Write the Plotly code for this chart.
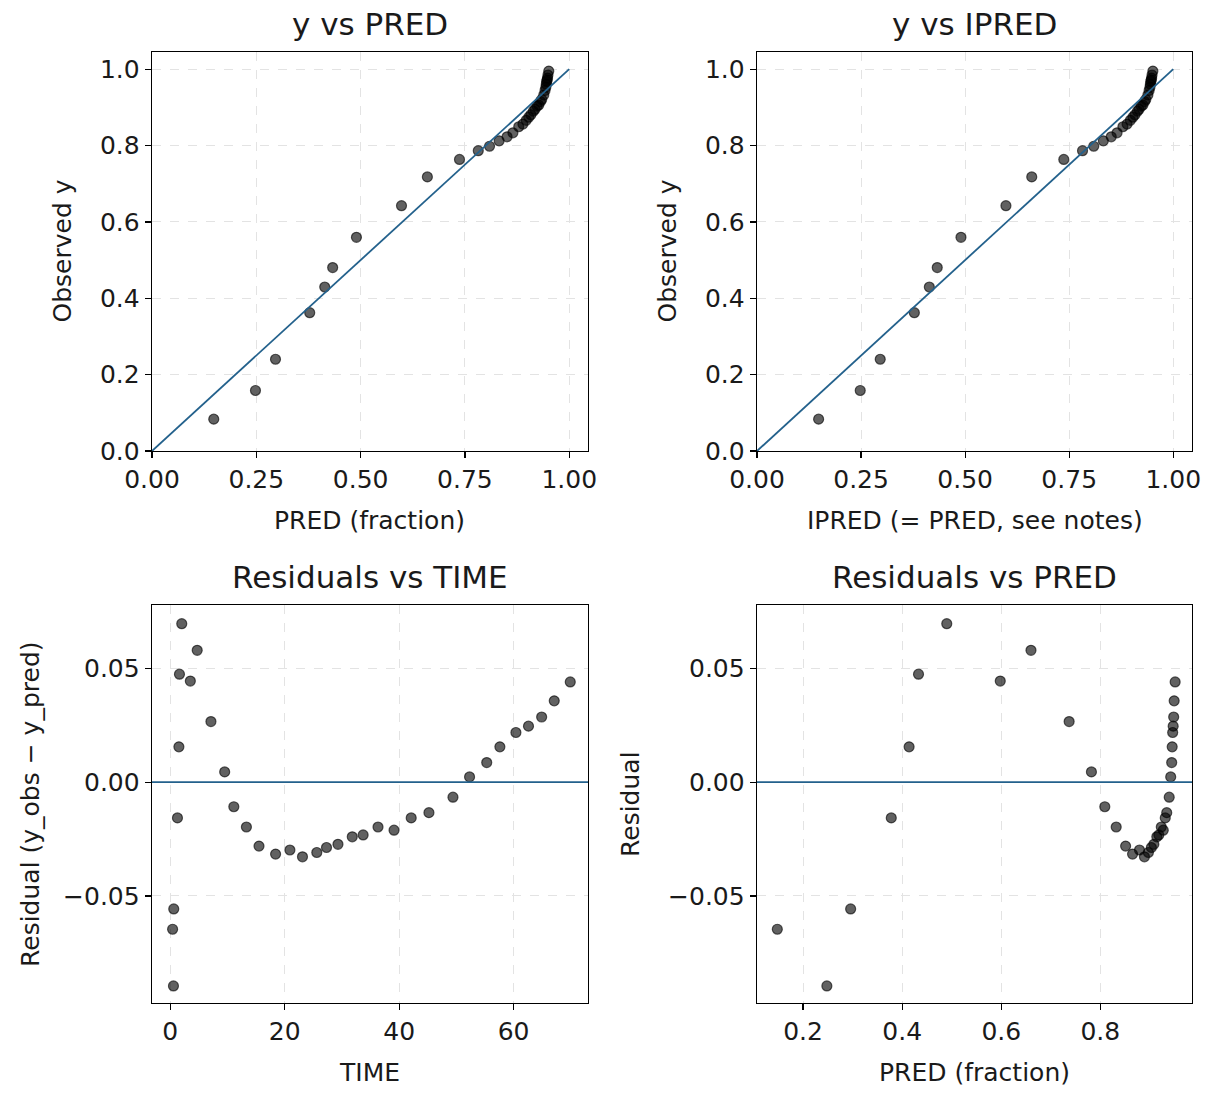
import plotly.graph_objects as go

# ---- data ----
time = [0.4, 0.55, 0.6, 1.25, 1.5, 1.6, 2.0, 3.5, 4.7, 7.1, 9.5, 11.1, 13.3, 15.5,
        18.4, 20.9, 23.1, 25.6, 27.3, 29.3, 31.8, 33.7, 36.3, 39.1, 42.1, 45.2,
        49.4, 52.3, 55.3, 57.6, 60.4, 62.6, 64.9, 67.1, 69.9]
pred = [0.148, 0.248, 0.296, 0.378, 0.414, 0.433, 0.490, 0.598, 0.660, 0.737,
        0.782, 0.809, 0.832, 0.851, 0.865, 0.879, 0.889, 0.897, 0.903, 0.908,
        0.914, 0.918, 0.923, 0.927, 0.931, 0.934, 0.939, 0.942, 0.944, 0.945,
        0.946, 0.947, 0.948, 0.949, 0.951]
resid = [-0.0646, -0.0895, -0.0557, -0.0157, 0.0155, 0.0474, 0.0696, 0.0444,
         0.0579, 0.0266, 0.0045, -0.0108, -0.0197, -0.0281, -0.0316, -0.0298,
         -0.0328, -0.0309, -0.0287, -0.0273, -0.0240, -0.0232, -0.0197, -0.0211,
         -0.0157, -0.0134, -0.0066, 0.0023, 0.0086, 0.0155, 0.0218, 0.0246,
         0.0286, 0.0357, 0.0440]
y_obs = [p + r for p, r in zip(pred, resid)]
identity = [0.0, 1.0]

top_ticks = [0.0, 0.25, 0.5, 0.75, 1.0]
obs_ticks = [0.0, 0.2, 0.4, 0.6, 0.8, 1.0]
time_ticks = [0, 20, 40, 60]
res_ticks = [-0.05, 0.0, 0.05]
pred_ticks = [0.2, 0.4, 0.6, 0.8]

titles = ["y vs PRED", "y vs IPRED", "Residuals vs TIME", "Residuals vs PRED"]
xlabels = ["PRED (fraction)", "IPRED (= PRED, see notes)", "TIME", "PRED (fraction)"]
ylabels = ["Observed y", "Observed y", "Residual (y_obs \u2212 y_pred)", "Residual"]

W, H = 1212, 1093
FONT = "DejaVu Sans, Liberation Sans, sans-serif"
TICK = 25
TITLE = 31
LINE = "#23618c"

def px(x):
    return x / W

def py(y):
    return (H - y) / H

panels = [
    dict(x0=152, x1=588, y0=52, y1=451),
    dict(x0=757, x1=1192, y0=52, y1=451),
    dict(x0=152, x1=588, y0=605, y1=1003),
    dict(x0=757, x1=1192, y0=605, y1=1003),
]

fig = go.Figure()
marker = dict(size=10, color="rgba(0,0,0,0.62)",
              line=dict(color="rgba(0,0,0,0.62)", width=1.2))

data = [(pred, y_obs), (pred, y_obs), (time, resid), (pred, resid)]
for i, (xs, ys) in enumerate(data):
    n = "" if i == 0 else str(i + 1)
    fig.add_trace(go.Scatter(x=xs, y=ys, mode="markers", marker=marker,
                             xaxis="x" + n, yaxis="y" + n, showlegend=False,
                             hoverinfo="skip"))
    if i < 2:
        fig.add_trace(go.Scatter(x=identity, y=identity, mode="lines",
                                 line=dict(color=LINE, width=1.8),
                                 xaxis="x" + n, yaxis="y" + n, showlegend=False,
                                 hoverinfo="skip"))

ranges = [
    ([0, 1.045], [0, 1.045], top_ticks, ".2f", obs_ticks, ".1f"),
    ([0, 1.045], [0, 1.045], top_ticks, ".2f", obs_ticks, ".1f"),
    ([-3.2, 73.0], [-0.0970, 0.0778], time_ticks, "d", res_ticks, ".2f"),
    ([0.107, 0.985], [-0.0970, 0.0778], pred_ticks, ".1f", res_ticks, ".2f"),
]

axis_common = dict(showline=True, linecolor="black", linewidth=1.3, mirror=True,
                   ticks="outside", ticklen=6, tickwidth=1.2, tickcolor="black",
                   showgrid=True, gridcolor="#e3e3e3", gridwidth=1, griddash="dash",
                   zeroline=False, automargin=False,
                   tickfont=dict(family=FONT, size=TICK, color="#1a1a1a"))

layout = dict(width=W, height=H, margin=dict(l=0, r=0, t=0, b=0, autoexpand=False),
              paper_bgcolor="white", plot_bgcolor="white",
              font=dict(family=FONT, color="#1a1a1a"))
annotations = []
shapes = []
for i, p in enumerate(panels):
    n = "" if i == 0 else str(i + 1)
    xr, yr, xt, xf, yt, yf = ranges[i]
    layout["xaxis" + n] = dict(axis_common, domain=[px(p["x0"]), px(p["x1"])],
                               range=xr, tickvals=xt, tickformat=xf,
                               anchor="y" + n)
    layout["yaxis" + n] = dict(axis_common, domain=[py(p["y1"]), py(p["y0"])],
                               range=yr, tickvals=yt, tickformat=yf,
                               anchor="x" + n)
    cx = (p["x0"] + p["x1"]) / 2
    annotations.append(dict(text=titles[i], x=px(cx), y=py(p["y0"] - 28),
                            xref="paper", yref="paper", showarrow=False,
                            xanchor="center", yanchor="middle",
                            font=dict(family=FONT, size=TITLE, color="#1a1a1a")))
    annotations.append(dict(text=xlabels[i], x=px(cx), y=py(p["y1"] + 69),
                            xref="paper", yref="paper", showarrow=False,
                            xanchor="center", yanchor="middle",
                            font=dict(family=FONT, size=TICK, color="#1a1a1a")))
    ylx = {0: 62, 1: 667, 2: 30, 3: 630}[i]
    annotations.append(dict(text=ylabels[i], x=px(ylx),
                            y=py((p["y0"] + p["y1"]) / 2),
                            xref="paper", yref="paper", showarrow=False,
                            textangle=-90, xanchor="center", yanchor="middle",
                            font=dict(family=FONT, size=TICK, color="#1a1a1a")))
    if i >= 2:
        shapes.append(dict(type="line", xref="x" + n + " domain", yref="y" + n,
                           x0=0, x1=1, y0=0, y1=0,
                           line=dict(color=LINE, width=1.6)))

layout["annotations"] = annotations
layout["shapes"] = shapes
fig.update_layout(**layout)

fig.write_html("out.html",
               config={"displayModeBar": False, "staticPlot": True},
               post_script="document.body.style.margin='0';"
                           "document.body.style.overflow='hidden';")
